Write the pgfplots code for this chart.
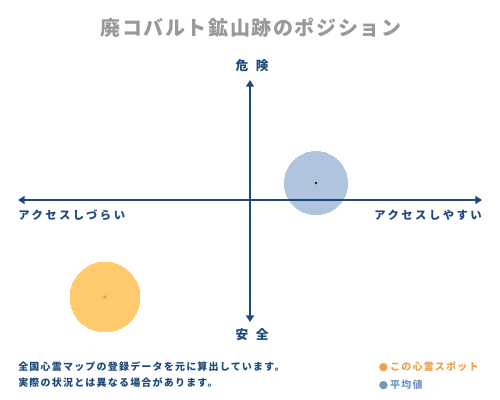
\documentclass[border=0pt]{standalone}
\usepackage{fontspec}
\setmainfont{Noto Sans CJK JP}
\newfontfamily\jpwide[LetterSpace=8]{Noto Sans CJK JP}
\newfontfamily\jplab[LetterSpace=22]{Noto Sans CJK JP}
\newfontfamily\jpfoot[LetterSpace=12]{Noto Sans CJK JP}
\newfontfamily\jppole[LetterSpace=60]{Noto Sans CJK JP}
\usepackage{pgfplots}
\pgfplotsset{compat=1.18}
\usetikzlibrary{arrows.meta}

\definecolor{navy}{HTML}{1F4A7D}
\definecolor{titlegray}{HTML}{999999}
\definecolor{spotfill}{HTML}{FFC96E}
\definecolor{spotdot}{HTML}{F0A020}
\definecolor{avgfill}{HTML}{B0C4DE}
\definecolor{avgdot}{HTML}{1E2A3C}
\definecolor{legorange}{HTML}{F0A04A}
\definecolor{legblue}{HTML}{7296BE}

\begin{document}
\begin{tikzpicture}

\begin{axis}[
  scale only axis,
  width = 375pt,
  height = 300pt,
  xmin = 0, xmax = 500,
  ymin = 0, ymax = 400,
  y dir = reverse,
  hide axis,
  clip = false,
  legend cell align = left,
  legend style = {
    at = {(0.758,0.103)},
    anchor = north west,
    draw = none,
    fill = none,
    inner sep = 0pt,
    row sep = 1.5pt,
    font = \jpfoot\fontsize{7.5}{9}\selectfont\bfseries,
  },
  % axes arrows go on top of the circles
  after end axis/.code = {
    \draw[navy, line width=1.8pt, {Triangle[length=5pt,width=6pt]}-{Triangle[length=5pt,width=6pt]}]
      (axis cs:18,200) -- (axis cs:482,200);
    \draw[navy, line width=1.8pt, {Triangle[length=5pt,width=6pt]}-{Triangle[length=5pt,width=6pt]}]
      (axis cs:250,80) -- (axis cs:250,322);
  },
]

% page frame, 1 unit = 1 px
\path (axis cs:0,0) rectangle (axis cs:500,400);

% this spot
\addplot[only marks, mark=*, mark size=26.2pt, color=spotfill, mark options={draw=spotfill, fill=spotfill, line width=0pt}, forget plot]
  coordinates {(105,297)};
\addplot[only marks, mark=*, mark size=1.1pt, color=spotdot, mark options={draw=spotdot, fill=spotdot}, forget plot]
  coordinates {(105,297)};

% average
\addplot[only marks, mark=*, mark size=23.6pt, color=avgfill, mark options={draw=avgfill, fill=avgfill, line width=0pt}, forget plot]
  coordinates {(316,183)};
\addplot[only marks, mark=*, mark size=0.8pt, color=avgdot, mark options={draw=avgdot, fill=avgdot}, forget plot]
  coordinates {(316,183)};

% legend
\addlegendimage{legend image code/.code={\fill[legorange] (0.1cm,0cm) circle (2.9pt);}}
\addlegendentry{\textcolor{legorange}{この心霊スポット}}
\addlegendimage{legend image code/.code={\fill[legblue] (0.1cm,0cm) circle (2.9pt);}}
\addlegendentry{\textcolor{legblue}{平均値}}

% texts
\node[titlegray, font=\jpwide\fontsize{15}{18}\selectfont\bfseries] at (axis cs:251,28) {廃コバルト鉱山跡のポジション};
\node[navy, font=\jppole\fontsize{9.5}{11}\selectfont\bfseries] at (axis cs:252,66) {危険};
\node[navy, font=\jppole\fontsize{9.5}{11}\selectfont\bfseries] at (axis cs:252,335) {安全};
\node[navy, anchor=west, inner sep=0pt, font=\jplab\fontsize{8.5}{10}\selectfont\bfseries] at (axis cs:18,215) {アクセスしづらい};
\node[navy, anchor=east, inner sep=0pt, font=\jplab\fontsize{8.5}{10}\selectfont\bfseries] at (axis cs:482,215) {アクセスしやすい};
\node[navy, anchor=west, inner sep=0pt, font=\jpfoot\fontsize{7.5}{9}\selectfont\bfseries] at (axis cs:18,367) {全国心霊マップの登録データを元に算出しています。};
\node[navy, anchor=west, inner sep=0pt, font=\jpfoot\fontsize{7.5}{9}\selectfont\bfseries] at (axis cs:18,383) {実際の状況とは異なる場合があります。};

\end{axis}

\end{tikzpicture}
\end{document}
